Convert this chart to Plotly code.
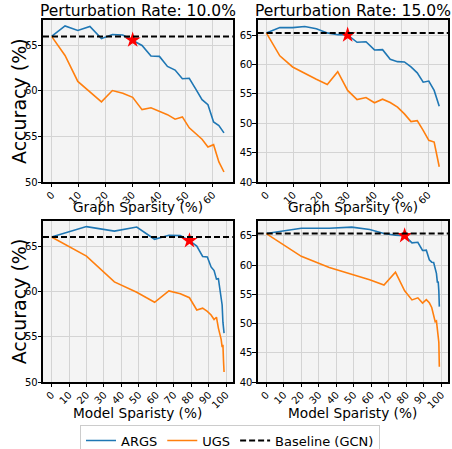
import plotly.graph_objects as go

# ---------------- data ----------------
graph_sparsity = [0, 5.0, 9.75, 14.26, 18.55, 22.62, 26.49, 30.17, 33.66, 36.98, 40.13,
                  43.12, 45.96, 48.67, 51.23, 53.67, 55.99, 58.19, 60.28, 62.26, 64.15]
model_sparsity = [0, 20.0, 36.0, 48.8, 59.04, 67.23, 73.79, 79.03, 83.22, 86.58, 89.26,
                  91.41, 93.13, 94.5, 95.6, 96.48, 97.19, 97.75, 98.2, 98.56, 98.85]

args_10 = [66.0, 67.15, 66.65, 67.1, 65.75, 66.2, 66.15, 65.6, 65.0, 63.85, 63.8,
           62.7, 62.3, 61.35, 61.4, 60.2, 59.05, 58.5, 56.6, 56.2, 55.4]
ugs_10 = [66.0, 63.9, 61.05, 59.9, 58.8, 60.05, 59.75, 59.3, 57.95, 58.15, 57.8,
          57.4, 56.9, 57.15, 55.95, 55.3, 54.7, 53.85, 54.1, 52.2, 51.1]
args_15 = [65.4, 66.3, 66.3, 66.5, 66.1, 65.4, 65.1, 65.05, 63.8, 63.9, 62.5,
           62.55, 60.9, 60.5, 60.45, 59.6, 58.6, 57.0, 57.2, 55.6, 52.9]
ugs_15 = [65.4, 61.5, 59.6, 58.45, 57.5, 56.6, 58.8, 55.6, 54.05, 54.4, 53.5,
          54.1, 53.55, 52.75, 51.6, 50.3, 50.45, 48.8, 47.1, 46.8, 42.6]

baseline_10 = 66.0
baseline_15 = 65.4
star_index = 7

titles = ["Perturbation Rate: 10.0%", "Perturbation Rate: 15.0%"]
xlabels = ["Graph Sparsity (%)", "Model Sparisty (%)"]
ylabel = "Accuracy (%)"
names = ["ARGS", "UGS", "Baseline (GCN)"]

yticks_10 = [50, 55, 60, 65]
yticks_15 = [40, 45, 50, 55, 60, 65]
xticks_graph = [0, 10, 20, 30, 40, 50, 60]
xticks_model = [0, 10, 20, 30, 40, 50, 60, 70, 80, 90, 100]

# ---------------- styling / layout ----------------
W, H = 452, 449
BLUE = "#1f77b4"
ORANGE = "#ff7f0e"
FONT = "DejaVu Sans"

def px_x(a, b):
    return [a / W, b / W]

def px_y(top, bottom):
    return [1 - bottom / H, 1 - top / H]

col_dom = [px_x(43, 232.7), px_x(257.7, 448)]
row_dom = [px_y(20, 182), px_y(220.7, 382)]

fig = go.Figure()

panels = [
    # (row, col, xs, args, ugs, base, yticks, yrange, xticks, xrange)
    (0, 0, graph_sparsity, args_10, ugs_10, baseline_10, yticks_10, [50, 67.8], xticks_graph, [-3.2, 67.4]),
    (0, 1, graph_sparsity, args_15, ugs_15, baseline_15, yticks_15, [40, 67.6], xticks_graph, [-3.2, 67.4]),
    (1, 0, model_sparsity, args_10, ugs_10, baseline_10, yticks_10, [50, 67.8], xticks_model, [-4.9, 103.8]),
    (1, 1, model_sparsity, args_15, ugs_15, baseline_15, yticks_15, [40, 67.6], xticks_model, [-4.9, 103.8]),
]

annotations = []
for i, (r, c, xs, a, u, base, yt, yr, xt, xr) in enumerate(panels):
    n = "" if i == 0 else str(i + 1)
    xa, ya = "x" + n, "y" + n
    first = i == 0
    fig.add_trace(go.Scatter(x=xs, y=a, mode="lines", name=names[0],
                             line=dict(color=BLUE, width=1.6),
                             xaxis=xa, yaxis=ya, showlegend=first, legendgroup="a"))
    fig.add_trace(go.Scatter(x=xs, y=u, mode="lines", name=names[1],
                             line=dict(color=ORANGE, width=1.6),
                             xaxis=xa, yaxis=ya, showlegend=first, legendgroup="u"))
    fig.add_shape(type="line", xref=xa + " domain", yref=ya, x0=0, x1=1, y0=base, y1=base,
                  line=dict(color="black", width=2, dash="6px,3px"), layer="above")
    fig.add_trace(go.Scatter(x=[xs[star_index]], y=[a[star_index]], mode="markers",
                             marker=dict(symbol="star", size=12, color="red", line=dict(width=0)),
                             xaxis=xa, yaxis=ya, showlegend=False, hoverinfo="skip"))
    axcommon = dict(showline=True, mirror=True, linecolor="black", linewidth=1.6,
                    ticks="outside", ticklen=3.5, tickwidth=1, tickcolor="black",
                    showgrid=True, gridcolor="#d4d4d4", gridwidth=1, zeroline=False,
                    automargin=False, ticklabelstandoff=-2,
                    tickfont=dict(family=FONT, size=10, color="black"))
    fig.layout["xaxis" + n] = dict(domain=col_dom[c], anchor=ya, range=xr,
                                   tickvals=xt, tickangle=-45, **axcommon)
    fig.layout["yaxis" + n] = dict(domain=row_dom[r], anchor=xa, range=yr,
                                   tickvals=yt, **axcommon)
    # x label
    xc = (col_dom[c][0] + col_dom[c][1]) / 2
    xl_y = [206.5, 412.5][r]
    annotations.append(dict(text=xlabels[r], x=xc, y=1 - xl_y / H, xref="paper", yref="paper",
                            xanchor="center", yanchor="middle", showarrow=False,
                            font=dict(family=FONT, size=13.7, color="black")))
    if r == 0:
        annotations.append(dict(text=titles[c], x=xc, y=1 - 11.5 / H, xref="paper", yref="paper",
                                xanchor="center", yanchor="middle", showarrow=False,
                                font=dict(family=FONT, size=15.5, color="black")))
    if c == 0:
        yc = (row_dom[r][0] + row_dom[r][1]) / 2
        annotations.append(dict(text=ylabel, x=19 / W, y=yc, xref="paper", yref="paper",
                                xanchor="center", yanchor="middle", showarrow=False, textangle=-90,
                                font=dict(family=FONT, size=19, color="black")))

# legend entry for the baseline
fig.add_trace(go.Scatter(x=[None], y=[None], mode="lines", name=names[2],
                         line=dict(color="black", width=2, dash="6px,3px")))

fig.update_layout(
    width=W, height=H, autosize=False,
    margin=dict(l=0, r=0, t=0, b=0, autoexpand=False),
    paper_bgcolor="white", plot_bgcolor="#f4f4f4",
    annotations=annotations,
    showlegend=True,
    legend=dict(orientation="h", x=230 / W, xanchor="center", y=1 - 424.5 / H, yanchor="top",
                bordercolor="#cccccc", borderwidth=1, bgcolor="white",
                font=dict(family=FONT, size=13, color="black"),
                itemwidth=30, traceorder="normal"),
    font=dict(family=FONT),
)

fig.write_html("out.html")
